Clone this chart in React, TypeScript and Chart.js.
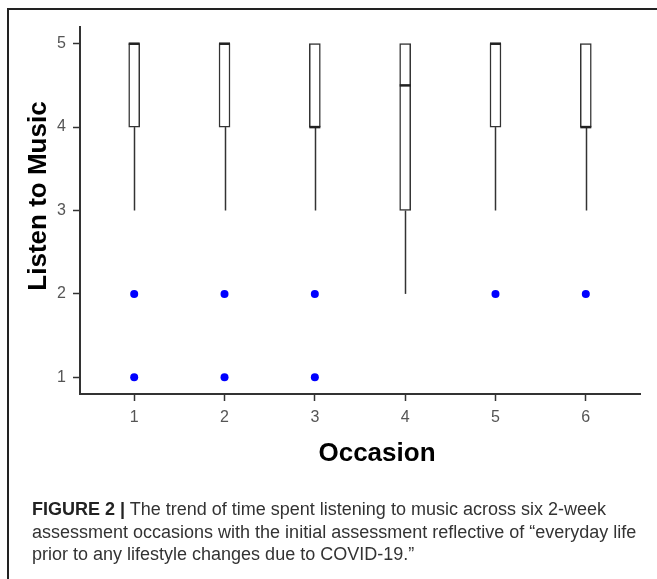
import React, { useEffect, useRef } from "react";
import { Chart, registerables } from "chart.js";

Chart.register(...registerables);

const occasions = [1, 2, 3, 4, 5, 6];
const q1 = [4, 4, 4, 3, 4, 4];
const medians = [5, 5, 4, 4.5, 5, 4];
const q3 = [5, 5, 5, 5, 5, 5];
const whiskerLow = [3, 3, 3, 2, 3, 3];
const whiskerHigh = [5, 5, 5, 5, 5, 5];
const outlierOccasion = [1, 1, 2, 2, 3, 3, 5, 6];
const outlierValue = [1, 2, 1, 2, 1, 2, 2, 2];
const yTicks = [1, 2, 3, 4, 5];
const xTicks = [1, 2, 3, 4, 5, 6];

const BOX_W = 11;
const LINE = "#333333";

const boxPlugin = {
  id: "boxParts",
  beforeDatasetsDraw(chart: any) {
    const { ctx, scales } = chart;
    const xs = scales.x;
    const ys = scales.y;
    ctx.save();
    ctx.strokeStyle = LINE;
    ctx.lineWidth = 1.5;
    occasions.forEach((o, i) => {
      const px = Math.round(xs.getPixelForValue(o)) + 0.5;
      ctx.beginPath();
      ctx.moveTo(px, ys.getPixelForValue(q1[i]));
      ctx.lineTo(px, ys.getPixelForValue(whiskerLow[i]));
      ctx.moveTo(px, ys.getPixelForValue(q3[i]));
      ctx.lineTo(px, ys.getPixelForValue(whiskerHigh[i]));
      ctx.stroke();
    });
    ctx.restore();
  },
  afterDatasetsDraw(chart: any) {
    const { ctx, scales } = chart;
    const xs = scales.x;
    const ys = scales.y;
    ctx.save();
    ctx.strokeStyle = "#222222";
    ctx.lineWidth = 2.5;
    occasions.forEach((o, i) => {
      const px = xs.getPixelForValue(o);
      const py = ys.getPixelForValue(medians[i]);
      ctx.beginPath();
      ctx.moveTo(px - BOX_W / 2, py);
      ctx.lineTo(px + BOX_W / 2, py);
      ctx.stroke();
    });
    ctx.restore();
  },
};

export default function App() {
  const ref = useRef<HTMLCanvasElement>(null);

  useEffect(() => {
    if (!ref.current) return;
    const tickFont = { family: "'Liberation Sans', Arial, sans-serif", size: 16 };
    const chart = new Chart(ref.current, {
      type: "bar",
      data: {
        datasets: [
          {
            type: "bar",
            data: occasions.map((o, i) => ({ x: o, y: [q1[i], q3[i]] })) as any,
            backgroundColor: "#ffffff",
            borderColor: LINE,
            borderWidth: 1.5,
            borderSkipped: false,
            barThickness: BOX_W,
          } as any,
          {
            type: "scatter",
            data: outlierOccasion.map((o, i) => ({ x: o, y: outlierValue[i] })),
            backgroundColor: "#0000ff",
            borderColor: "#0000ff",
            pointRadius: 4,
            borderWidth: 0,
          } as any,
        ],
      },
      options: {
        responsive: false,
        animation: false,
        layout: { padding: { left: 0, top: 27, right: 17, bottom: 0 } },
        plugins: { legend: { display: false }, tooltip: { enabled: false } },
        scales: {
          x: {
            type: "linear",
            min: 0.4,
            max: 6.6,
            offset: false,
            afterBuildTicks: (s: any) => {
              s.ticks = xTicks.map((v) => ({ value: v }));
            },
            afterFit: (s: any) => {
              s.height = 76;
            },
            ticks: { color: "#555555", font: tickFont, padding: 7 },
            grid: {
              display: true,
              offset: false,
              drawOnChartArea: false,
              drawTicks: true,
              tickLength: 7,
              tickColor: LINE,
              tickWidth: 1.5,
            },
            border: { display: true, color: LINE, width: 2 },
          },
          y: {
            type: "linear",
            min: 0.8,
            max: 5.2,
            afterBuildTicks: (s: any) => {
              s.ticks = yTicks.map((v) => ({ value: v }));
            },
            afterFit: (s: any) => {
              s.width = 80;
            },
            ticks: { color: "#555555", font: tickFont, padding: 7 },
            grid: {
              display: true,
              drawOnChartArea: false,
              drawTicks: true,
              tickLength: 7,
              tickColor: LINE,
              tickWidth: 1.5,
            },
            border: { display: true, color: LINE, width: 2 },
          },
        },
      } as any,
      plugins: [boxPlugin],
    });
    return () => chart.destroy();
  }, []);

  const sans = "'Liberation Sans', Arial, Helvetica, sans-serif";

  return (
    <div
      style={{
        position: "absolute",
        left: 0,
        top: 0,
        width: 657,
        height: 579,
        background: "#ffffff",
        overflow: "hidden",
        fontFamily: sans,
      }}
    >
      <div style={{ position: "absolute", left: 0, top: 0, width: 657, height: 470 }}>
        <canvas ref={ref} width={657} height={470} />
      </div>
      <div
        style={{
          position: "absolute",
          left: 7,
          top: 8,
          right: 0,
          bottom: 0,
          borderTop: "2px solid #222",
          borderLeft: "2px solid #222",
          pointerEvents: "none",
        }}
      />
      <div
        style={{
          position: "absolute",
          left: 37,
          top: 196,
          transform: "translate(-50%, -50%) rotate(-90deg)",
          whiteSpace: "nowrap",
          fontWeight: "bold",
          fontSize: 26,
          color: "#000",
        }}
      >
        Listen to Music
      </div>
      <div
        style={{
          position: "absolute",
          left: 377,
          top: 452,
          transform: "translate(-50%, -50%)",
          whiteSpace: "nowrap",
          fontWeight: "bold",
          fontSize: 26,
          color: "#000",
        }}
      >
        Occasion
      </div>
      <div
        style={{
          position: "absolute",
          left: 32,
          top: 498,
          fontSize: 18,
          lineHeight: "22.5px",
          color: "#333",
          whiteSpace: "nowrap",
        }}
      >
        <b style={{ color: "#222" }}>FIGURE 2 |</b> The trend of time spent listening to music across six 2-week
        <br />
        assessment occasions with the initial assessment reflective of “everyday life
        <br />
        prior to any lifestyle changes due to COVID-19.”
      </div>
    </div>
  );
}
